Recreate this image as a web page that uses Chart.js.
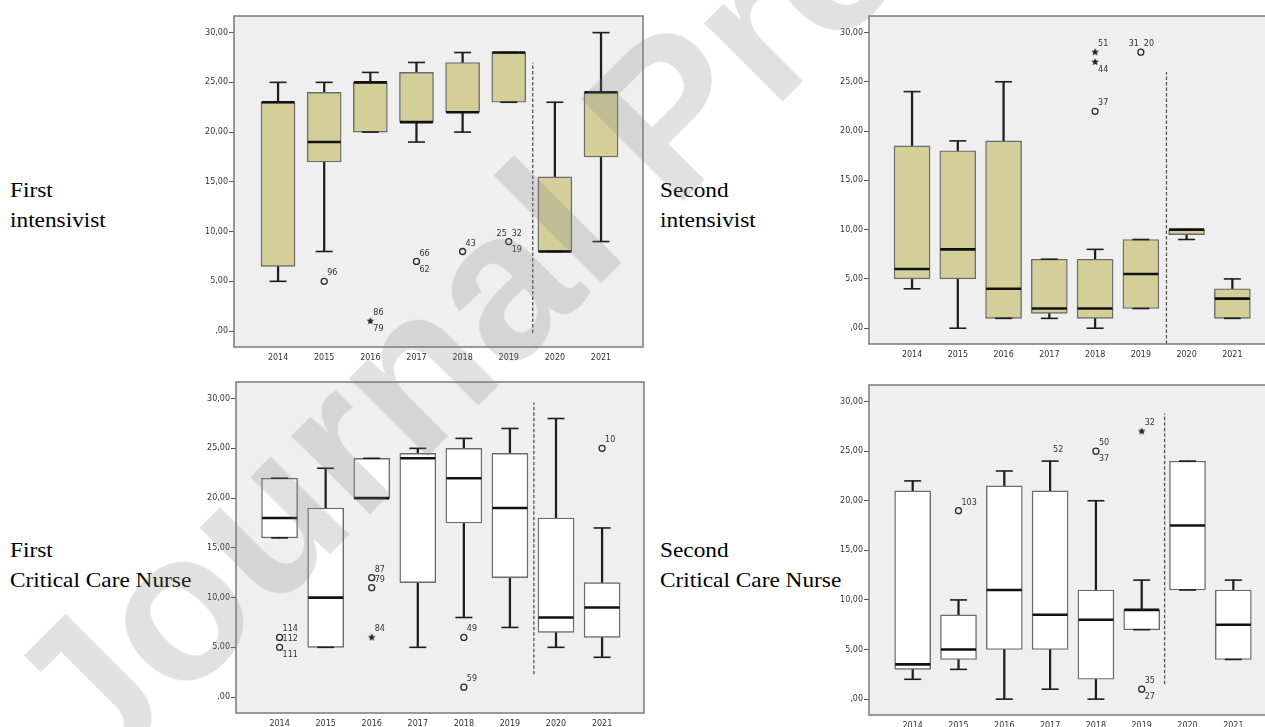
<!DOCTYPE html>
<html>
<head>
<meta charset="utf-8">
<script src="https://cdn.jsdelivr.net/npm/chart.js@4.4.1/dist/chart.umd.min.js"></script>
<style>
  body { margin: 0; width: 1265px; height: 727px; overflow: hidden; background: #fff; position: relative; }
  canvas { position: absolute; }
  .lbl { position: absolute; font: 21px "Liberation Serif", serif; line-height: 30px; color: #000;
         white-space: nowrap; transform: scaleX(1.11); transform-origin: 0 0; }
  .wm { position: absolute; left: 85px; top: 600px; height: 210px; line-height: 210px;
        font: bold 210px "Liberation Sans", Arial, sans-serif; color: rgba(128,128,128,0.24);
        white-space: nowrap; transform: rotate(-45deg); transform-origin: 0 178px; pointer-events: none; }
</style>
</head>
<body>
<div class="lbl" style="left:10px;top:175px">First<br>intensivist</div>
<div class="lbl" style="left:660px;top:175px">Second<br>intensivist</div>
<div class="lbl" style="left:10px;top:535px">First<br>Critical Care Nurse</div>
<div class="lbl" style="left:660px;top:535px">Second<br>Critical Care Nurse</div>

<canvas id="c1" width="485" height="363" style="left:164px;top:10px"></canvas>
<canvas id="c2" width="481" height="360" style="left:799px;top:10px"></canvas>
<canvas id="c3" width="484" height="363" style="left:166px;top:376px"></canvas>
<canvas id="c4" width="482" height="362" style="left:799px;top:379px"></canvas>

<div class="wm">Journal Pre-proof</div>

<script>
const years = ["2014", "2015", "2016", "2017", "2018", "2019", "2020", "2021"];
const yTicks = [0, 5, 10, 15, 20, 25, 30];
const yTickLabels = [",00", "5,00", "10,00", "15,00", "20,00", "25,00", "30,00"];

// First intensivist
const fiMin = [5, 8, 20, 19, 20, 23, 8, 9];
const fiQ1  = [6.5, 17, 20, 21, 22, 23, 8, 17.5];
const fiMed = [23, 19, 25, 21, 22, 28, 8, 24];
const fiQ3  = [23, 24, 25, 26, 27, 28, 15.5, 24];
const fiMax = [25, 25, 26, 27, 28, 28, 23, 30];
// [year, value, marker, ids (upper right, lower right, upper left)]
const fiOutliers = [
  ["2015", 5, "o", ["96"]],
  ["2016", 1, "*", ["86", "79"]],
  ["2017", 7, "o", ["66", "62"]],
  ["2018", 8, "o", ["43"]],
  ["2019", 9, "o", ["32", "19", "25"]]
];
const fiSeparator = [6.52, -0.2, 27];

// Second intensivist
const siMin = [4, 0, 1, 1, 0, 2, 9, 1];
const siQ1  = [5, 5, 1, 1.5, 1, 2, 9.5, 1];
const siMed = [6, 8, 4, 2, 2, 5.5, 10, 3];
const siQ3  = [18.5, 18, 19, 7, 7, 9, 10, 4];
const siMax = [24, 19, 25, 7, 8, 9, 10, 5];
const siOutliers = [
  ["2018", 28, "*", ["51"]],
  ["2018", 27, "*", ["", "44"]],
  ["2018", 22, "o", ["37"]],
  ["2019", 28, "o", ["20", "", "31"]]
];
const siSeparator = [6.56, -1.6, 26];

// First critical care nurse
const fnMin = [16, 5, 20, 5, 8, 7, 5, 4];
const fnQ1  = [16, 5, 20, 11.5, 17.5, 12, 6.5, 6];
const fnMed = [18, 10, 20, 24, 22, 19, 8, 9];
const fnQ3  = [22, 19, 24, 24.5, 25, 24.5, 18, 11.5];
const fnMax = [22, 23, 24, 25, 26, 27, 28, 17];
const fnOutliers = [
  ["2014", 6, "o", ["114"]],
  ["2014", 5, "o", ["112", "111"]],
  ["2016", 12, "o", ["87"]],
  ["2016", 11, "o", ["79"]],
  ["2016", 6, "*", ["84"]],
  ["2018", 6, "o", ["49"]],
  ["2018", 1, "o", ["59"]],
  ["2021", 25, "o", ["10"]]
];
const fnSeparator = [6.52, 2.3, 29.6];

// Second critical care nurse
const snMin = [2, 3, 0, 1, 0, 7, 11, 4];
const snQ1  = [3, 4, 5, 5, 2, 7, 11, 4];
const snMed = [3.5, 5, 11, 8.5, 8, 9, 17.5, 7.5];
const snQ3  = [21, 8.5, 21.5, 21, 11, 9, 24, 11];
const snMax = [22, 10, 23, 24, 20, 12, 24, 12];
const snOutliers = [
  ["2015", 19, "o", ["103"]],
  ["2017", 24.3, "", ["52"]],
  ["2018", 25, "o", ["50", "37"]],
  ["2019", 27, "*", ["32"]],
  ["2019", 1, "o", ["35", "27"]]
];
const snSeparator = [6.5, 1.5, 28.8];

// ------------------------------
// small filled star used for extreme values
// ------------------------------
function starMarker(r) {
  const c = document.createElement("canvas");
  c.width = c.height = 2 * r + 2;
  const g = c.getContext("2d");
  g.fillStyle = "#222";
  g.beginPath();
  for (let i = 0; i < 10; i++) {
    const a = -Math.PI / 2 + (i * Math.PI) / 5;
    const rr = i % 2 ? r * 0.45 : r;
    g.lineTo(r + 1 + rr * Math.cos(a), r + 1 + rr * Math.sin(a));
  }
  g.closePath();
  g.fill();
  return c;
}
const star = starMarker(4);

// ------------------------------
// plugins
// ------------------------------
const frame = {
  id: "frame",
  beforeDraw(chart) {
    const a = chart.chartArea, ctx = chart.ctx;
    ctx.save();
    ctx.fillStyle = "#efefef";
    ctx.fillRect(a.left, a.top, a.right - a.left, a.bottom - a.top);
    ctx.restore();
  },
  afterDraw(chart) {
    const a = chart.chartArea, ctx = chart.ctx;
    ctx.save();
    ctx.strokeStyle = "#7a7a7a";
    ctx.lineWidth = 1.5;
    ctx.strokeRect(a.left, a.top, a.right - a.left, a.bottom - a.top);
    ctx.restore();
  }
};

const idLabels = {
  id: "idLabels",
  afterDatasetsDraw(chart) {
    const ctx = chart.ctx;
    ctx.save();
    ctx.font = "8px 'DejaVu Sans'";
    ctx.fillStyle = "#333";
    ctx.textBaseline = "middle";
    chart.data.datasets.forEach((ds, di) => {
      if (!ds.ids) return;
      chart.getDatasetMeta(di).data.forEach((pt, i) => {
        ds.ids[i].forEach((t, k) => {
          if (!t) return;
          ctx.textAlign = k === 2 ? "right" : "left";
          ctx.fillText(t, pt.x + (k === 2 ? -2 : 3), pt.y + (k === 1 ? 8 : -8));
        });
      });
    });
    ctx.restore();
  }
};

// ------------------------------
// one boxplot panel
// ------------------------------
function boxPanel(id, s) {
  const xs = years.map((_, i) => i + 1);
  const pts = arr => xs.map((x, i) => ({ x, y: arr[i] }));
  new Chart(document.getElementById(id), {
    type: "bar",
    data: {
      datasets: [
        {
          type: "line",
          data: [{ x: s.sep[0], y: s.sep[1] }, { x: s.sep[0], y: s.sep[2] }],
          borderColor: "#555",
          borderWidth: 1.3,
          borderDash: [3.5, 2],
          pointRadius: 0,
          order: 6
        },
        {
          data: xs.map((x, i) => ({ x, y: [s.min[i], s.max[i]] })),
          backgroundColor: "#1e1e1e",
          barThickness: 1.6,
          grouped: false,
          order: 5
        },
        {
          data: xs.map((x, i) => ({ x, y: [s.q1[i], s.q3[i]] })),
          backgroundColor: s.fill,
          borderColor: "#6b6b6b",
          borderWidth: 1.4,
          borderSkipped: false,
          barThickness: s.boxW,
          grouped: false,
          order: 4
        },
        {
          type: "scatter",
          data: pts(s.min).concat(pts(s.max)),
          pointStyle: "line",
          pointRadius: 8.5,
          borderColor: "#1e1e1e",
          borderWidth: 1.6,
          order: 3
        },
        {
          type: "scatter",
          data: pts(s.med),
          pointStyle: "line",
          pointRadius: s.boxW / 2 - 0.5,
          borderColor: "#111",
          borderWidth: 2.6,
          order: 2
        },
        {
          type: "scatter",
          data: s.out.map(o => ({ x: years.indexOf(o[0]) + 1, y: o[1] })),
          ids: s.out.map(o => o[3]),
          pointStyle: s.out.map(o => (o[2] === "*" ? star : "circle")),
          pointRadius: s.out.map(o => (o[2] ? 3 : 0)),
          backgroundColor: "rgba(0,0,0,0)",
          borderColor: "#2a2a2a",
          borderWidth: 1.3,
          order: 1
        }
      ]
    },
    options: {
      responsive: false,
      devicePixelRatio: 1,
      animation: false,
      events: [],
      layout: { autoPadding: false, padding: { left: 0, top: 6, right: 6, bottom: 0 } },
      plugins: { legend: { display: false }, tooltip: { enabled: false } },
      scales: {
        x: {
          type: "linear",
          offset: false,
          min: s.xMin,
          max: s.xMax,
          afterBuildTicks: sc => { sc.ticks = xs.map(v => ({ value: v })); },
          afterFit: sc => { sc.height = 26; },
          ticks: {
            color: "#333",
            font: { family: "DejaVu Sans", size: 8 },
            padding: 6,
            maxRotation: 0,
            autoSkip: false,
            callback: v => years[v - 1]
          },
          grid: { display: true, offset: false, drawOnChartArea: false, drawTicks: false, color: "#555" },
          border: { display: false }
        },
        y: {
          min: -1.6,
          max: 31.67,
          afterBuildTicks: sc => { sc.ticks = yTicks.map(v => ({ value: v })); },
          afterFit: sc => { sc.width = 70; },
          ticks: {
            color: "#333",
            font: { family: "DejaVu Sans", size: 8 },
            padding: 1,
            callback: v => yTickLabels[yTicks.indexOf(v)]
          },
          grid: { drawOnChartArea: false, drawTicks: true, tickLength: 5, color: "#555" },
          border: { display: false }
        }
      }
    },
    plugins: [frame, idLabels]
  });
}

const khaki = "#d4cf99";
boxPanel("c1", { min: fiMin, q1: fiQ1, med: fiMed, q3: fiQ3, max: fiMax, out: fiOutliers,
  sep: fiSeparator, fill: khaki, boxW: 34, xMin: 0.045, xMax: 8.91 });
boxPanel("c2", { min: siMin, q1: siQ1, med: siMed, q3: siQ3, max: siMax, out: siOutliers,
  sep: siSeparator, fill: khaki, boxW: 36, xMin: 0.059, xMax: 8.91 });
boxPanel("c3", { min: fnMin, q1: fnQ1, med: fnMed, q3: fnQ3, max: fnMax, out: fnOutliers,
  sep: fnSeparator, fill: "#ffffff", boxW: 36, xMin: 0.054, xMax: 8.91 });
boxPanel("c4", { min: snMin, q1: snQ1, med: snMed, q3: snQ3, max: snMax, out: snOutliers,
  sep: snSeparator, fill: "#ffffff", boxW: 36, xMin: 0.046, xMax: 8.91 });
</script>
</body>
</html>
